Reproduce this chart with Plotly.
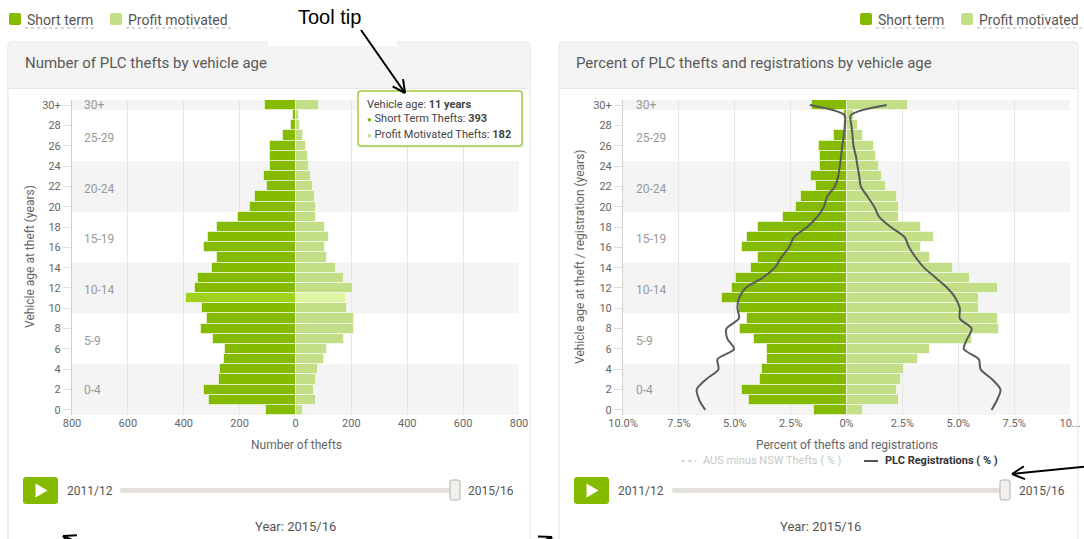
import math
import plotly.graph_objects as go

W, H = 1084, 539

# ---------------- data ----------------
ages = list(range(31))
age_ticks = list(range(0, 31, 2))
age_ticktext = [str(a) for a in range(0, 30, 2)] + ["30+"]

short_term = [104, 308, 329, 274, 271, 257, 251, 294, 340, 318, 334, 393, 359, 349, 299, 281,
              326, 315, 281, 206, 162, 146, 101, 111, 90, 90, 90, 43, 17, 10, 110]
profit_mot = [27, 74, 67, 74, 81, 101, 114, 172, 209, 209, 185, 182, 205, 172, 145, 113,
              104, 121, 104, 75, 73, 70, 62, 56, 50, 44, 38, 26, 17, 12, 85]

short_pct = [1.44, 4.35, 4.66, 3.85, 3.76, 3.54, 3.54, 4.15, 4.78, 4.46, 4.81, 5.58, 5.13, 4.93, 4.27, 3.97,
             4.66, 4.43, 3.97, 2.84, 2.25, 2.05, 1.35, 1.58, 1.19, 1.19, 1.24, 0.57, 0.13, 0.10, 1.56]
profit_pct = [0.74, 2.35, 2.28, 2.43, 2.57, 3.21, 3.72, 5.62, 6.84, 6.76, 5.95, 5.95, 6.76, 5.52, 4.75, 3.72,
              3.35, 3.93, 3.35, 2.35, 2.35, 2.28, 1.76, 1.61, 1.46, 1.31, 1.24, 0.73, 0.52, 0.34, 2.75]

reg_left = [6.32, 6.59, 6.70, 6.29, 5.73, 5.77, 5.03, 5.33, 5.37, 4.81, 4.88, 4.81, 4.51, 3.76, 3.21, 2.92,
            2.57, 2.35, 1.76, 1.31, 1.01, 0.86, 0.52, 0.37, 0.30, 0.24, 0.19, 0.12, 0.07, 0.09, 1.64]
reg_right = [6.49, 6.74, 6.89, 6.52, 6.00, 5.92, 5.25, 5.40, 5.60, 5.07, 5.07, 4.88, 4.51, 3.99, 3.47, 3.10,
             2.80, 2.60, 1.98, 1.46, 1.24, 0.94, 0.64, 0.57, 0.49, 0.42, 0.31, 0.27, 0.22, 0.19, 1.80]

band_labels = ["0-4", "5-9", "10-14", "15-19", "20-24", "25-29", "30+"]
band_label_y = [2.0, 6.8, 11.8, 16.8, 21.7, 26.8, 30.0]
shaded_bands = [(-0.5, 4.5), (9.5, 14.5), (19.5, 24.5), (29.5, 30.5)]

count_ticks = [-800, -600, -400, -200, 0, 200, 400, 600, 800]
count_ticktext = ["800", "600", "400", "200", "0", "200", "400", "600", "800"]
pct_ticks = [-10, -7.5, -5, -2.5, 0, 2.5, 5, 7.5, 10]
pct_ticktext = ["10.0%", "7.5%", "5.0%", "2.5%", "0%", "2.5%", "5.0%", "7.5%", "10..."]

hover_age = 11

# ---------------- styles ----------------
FONT = "Roboto"
C_SHORT = "#84bb00"
C_PROFIT = "#c2df87"
C_SHORT_HI = "#a0d21d"
C_PROFIT_HI = "#dbf5a0"
C_LINE = "#5a5a5a"
GREY_TXT = "#666666"


def X(px):
    return px / W


def Y(py):
    return 1 - py / H


shapes = []
annos = []


def rect(x0, y0, x1, y1, fill, line=None, lw=1, layer="below"):
    shapes.append(dict(type="rect", xref="paper", yref="paper", x0=X(x0), x1=X(x1), y0=Y(y1), y1=Y(y0),
                       fillcolor=fill, line=dict(color=line or "rgba(0,0,0,0)", width=lw if line else 0),
                       layer=layer))


def rrect(x0, y0, x1, y1, r, fill, line=None, lw=1, layer="below"):
    def p(x, y):
        return f"{X(x):.5f},{Y(y):.5f}"
    path = (f"M {p(x0 + r, y0)} L {p(x1 - r, y0)} Q {p(x1, y0)} {p(x1, y0 + r)} "
            f"L {p(x1, y1 - r)} Q {p(x1, y1)} {p(x1 - r, y1)} L {p(x0 + r, y1)} "
            f"Q {p(x0, y1)} {p(x0, y1 - r)} L {p(x0, y0 + r)} Q {p(x0, y0)} {p(x0 + r, y0)} Z")
    shapes.append(dict(type="path", xref="paper", yref="paper", path=path, fillcolor=fill,
                       line=dict(color=line or "rgba(0,0,0,0)", width=lw if line else 0), layer=layer))


def line(x0, y0, x1, y1, color, width=1, dash="solid", layer="above"):
    shapes.append(dict(type="line", xref="paper", yref="paper", x0=X(x0), y0=Y(y0), x1=X(x1), y1=Y(y1),
                       line=dict(color=color, width=width, dash=dash), layer=layer))


def text(x, y, s, size=12, color=GREY_TXT, xanchor="left", yanchor="middle", family=FONT, angle=0):
    annos.append(dict(xref="paper", yref="paper", x=X(x), y=Y(y), text=s, showarrow=False,
                      xanchor=xanchor, yanchor=yanchor, textangle=angle,
                      font=dict(family=family, size=size, color=color)))


def arrow(tx, ty, hx, hy, head=14, ang=27):
    line(tx, ty, hx, hy, "black", 2)
    dx, dy = tx - hx, ty - hy
    L = math.hypot(dx, dy)
    ux, uy = dx / L, dy / L
    for s in (1, -1):
        a = math.radians(ang * s)
        rx = ux * math.cos(a) - uy * math.sin(a)
        ry = ux * math.sin(a) + uy * math.cos(a)
        line(hx, hy, hx + rx * head, hy + ry * head, "black", 2)


# ---------------- panels ----------------
for (px0, px1) in [(8, 530), (559, 1078)]:
    rrect(px0, 42, px1, 560, 4, "white", "#e2e2e2", 1)
    rrect(px0 + 1, 43, px1 - 1, 88, 3, "#f4f4f4")
    line(px0 + 1, 88.5, px1 - 1, 88.5, "#e6e6e6", 1, layer="below")

# white patch behind the "Tool tip" label
rect(268, 36, 397, 46, "white", layer="above")

text(23, 63, "Number of PLC thefts by vehicle age", size=15, color="#595959")
text(574, 63, "Percent of PLC thefts and registrations by vehicle age", size=15, color="#595959")

# top legends
for (sx, lbl, col, ul_end) in [(9, "Short term", C_SHORT, 94), (110, "Profit motivated", C_PROFIT, 231),
                               (860, "Short term", C_SHORT, 946), (961, "Profit motivated", C_PROFIT, 1082)]:
    rrect(sx, 13, sx + 12, 25, 2, col, layer="above")
    text(sx + 16, 19.5, lbl, size=14, color="#555555")
    line(sx + 16, 28, ul_end, 28, "#b0b0b0", 1, dash="dot")

# ---------------- bands ----------------
for xr, yr in [("x", "y"), ("x2", "y2")]:
    for (b0, b1) in shaded_bands:
        shapes.append(dict(type="rect", xref=f"{xr} domain", yref=yr, x0=0, x1=1, y0=b0, y1=b1,
                           fillcolor="#f4f4f4", line=dict(width=0), layer="below"))

for (lx, yr) in [(82, "y"), (634, "y2")]:
    for lbl, ly in zip(band_labels, band_label_y):
        annos.append(dict(xref="paper", yref=yr, x=X(lx), y=ly, text=lbl, showarrow=False,
                          xanchor="left", yanchor="middle", font=dict(family=FONT, size=12, color="#999999")))

# ---------------- traces ----------------
fig = go.Figure()

st_colors = [C_SHORT_HI if a == hover_age else C_SHORT for a in ages]
pm_colors = [C_PROFIT_HI if a == hover_age else C_PROFIT for a in ages]
sep = dict(color="rgba(255,255,255,0.55)", width=1)

fig.add_trace(go.Bar(y=ages, x=[-v for v in short_term], orientation="h", width=1.0,
                     marker=dict(color=st_colors, line=sep), xaxis="x", yaxis="y", name="Short term"))
fig.add_trace(go.Bar(y=ages, x=profit_mot, orientation="h", width=1.0,
                     marker=dict(color=pm_colors, line=sep), xaxis="x", yaxis="y", name="Profit motivated"))

fig.add_trace(go.Bar(y=ages, x=[-v for v in short_pct], orientation="h", width=1.0,
                     marker=dict(color=C_SHORT, line=sep), xaxis="x2", yaxis="y2", name="Short term %"))
fig.add_trace(go.Bar(y=ages, x=profit_pct, orientation="h", width=1.0,
                     marker=dict(color=C_PROFIT, line=sep), xaxis="x2", yaxis="y2", name="Profit motivated %"))

fig.add_trace(go.Scatter(y=ages, x=[-v for v in reg_left], mode="lines", line=dict(color=C_LINE, width=2, shape="spline", smoothing=0.8),
                         xaxis="x2", yaxis="y2", name="PLC Registrations (%)"))
fig.add_trace(go.Scatter(y=ages, x=reg_right, mode="lines", line=dict(color=C_LINE, width=2, shape="spline", smoothing=0.8),
                         xaxis="x2", yaxis="y2", name="PLC Registrations (%) R"))

# ---------------- axis titles ----------------
text(296, 445, "Number of thefts", size=12, xanchor="center")
text(847, 445, "Percent of thefts and registrations", size=12, xanchor="center")
text(30, 257, "Vehicle age at theft (years)", size=12, xanchor="center", angle=-90)
text(580, 257, "Vehicle age at theft / registration (years)", size=12, xanchor="center", angle=-90)

# series legend under right chart
line(681, 461, 696, 461, "#cccccc", 1.5, dash="4px,3px")
text(701, 460, "AUS minus NSW Thefts ( % )", size=11, color="#c8c8c8")
line(864, 461, 878, 461, "#555555", 2)
text(883, 460, "<b>PLC Registrations ( % )</b>", size=11, color="#333333")

# ---------------- sliders ----------------
for (bx, t0x, tr0, tr1, t1x, yx) in [(23, 90, 120, 455, 491, 295), (574, 641, 672, 1005, 1042, 820)]:
    rrect(bx, 477, bx + 35, 504, 3, "#84bb00", layer="above")
    cx, cy = bx + 17.5, 490.5
    tri = f"M {X(cx - 5):.5f},{Y(cy - 7):.5f} L {X(cx - 5):.5f},{Y(cy + 7):.5f} L {X(cx + 7):.5f},{Y(cy):.5f} Z"
    shapes.append(dict(type="path", xref="paper", yref="paper", path=tri, fillcolor="white",
                       line=dict(width=0), layer="above"))
    text(t0x, 490.5, "2011/12", size=12, color="#555555", xanchor="center")
    rrect(tr0, 488, tr1, 493, 2, "#e4e0db", layer="above")
    rrect(tr1 - 5, 480, tr1 + 5, 500, 2, "#f2f0ed", "#b5b0aa", 1, layer="above")
    text(t1x, 490.5, "2015/16", size=12, color="#555555", xanchor="center")
    text(yx, 526, "Year: 2015/16", size=13, color="#555555", xanchor="center")

# ---------------- tooltip ----------------
rrect(360, 93, 524, 148, 3, "rgba(0,0,0,0.06)", layer="above")
rrect(358, 91, 522, 146, 3, "rgba(255,255,255,0.97)", "#9ccc3c", 1.5, layer="above")
text(365, 104, "Vehicle age: <b>11 years</b>", size=11, color="#444444")
text(365, 119, f"<span style='color:{C_SHORT};font-size:8px'>●</span> Short Term Thefts: <b>393</b>",
     size=11, color="#444444")
text(365, 134, f"<span style='color:{C_PROFIT};font-size:8px'>●</span> Profit Motivated Thefts: <b>182</b>",
     size=11, color="#444444")

# ---------------- callouts ----------------
text(329, 17, "Tool tip", size=20, color="black", xanchor="center", family="Liberation Sans")
arrow(361, 30, 405, 93)
arrow(1092, 466, 1012, 474)
arrow(95, 550, 63, 536)
arrow(528, 548, 552, 537)

axis_common = dict(showgrid=True, gridcolor="#e6e6e6", gridwidth=1, zeroline=False, automargin=False,
                   tickfont=dict(family=FONT, size=11, color=GREY_TXT), ticks="", fixedrange=True)
yaxis_common = dict(range=[-0.5, 30.5], tickvals=age_ticks, ticktext=age_ticktext, ticks="outside",
                    ticklen=8, tickcolor="#dddddd", showgrid=False, zeroline=False, showline=True,
                    linecolor="#d0d0d0", linewidth=1, tickfont=dict(family=FONT, size=11, color=GREY_TXT),
                    domain=[Y(415), Y(100)], fixedrange=True, automargin=False)

fig.update_layout(
    width=W, height=H, margin=dict(l=0, r=0, t=0, b=0, pad=0, autoexpand=False),
    paper_bgcolor="white", plot_bgcolor="rgba(0,0,0,0)",
    barmode="relative", bargap=0, showlegend=False,
    font=dict(family=FONT),
    xaxis=dict(domain=[X(72), X(519)], range=[-800, 800], tickvals=count_ticks, ticktext=count_ticktext,
               anchor="y", **axis_common),
    yaxis=dict(anchor="x", **yaxis_common),
    xaxis2=dict(domain=[X(623), X(1070)], range=[-10, 10], tickvals=pct_ticks, ticktext=pct_ticktext,
                anchor="y2", **axis_common),
    yaxis2=dict(anchor="x2", **yaxis_common),
    shapes=shapes, annotations=annos,
    hovermode=False,
)

fig.write_html(
    "out.html",
    config={"responsive": False, "displayModeBar": False},
    post_script="document.body.style.margin='0';document.body.style.overflow='hidden';",
)
